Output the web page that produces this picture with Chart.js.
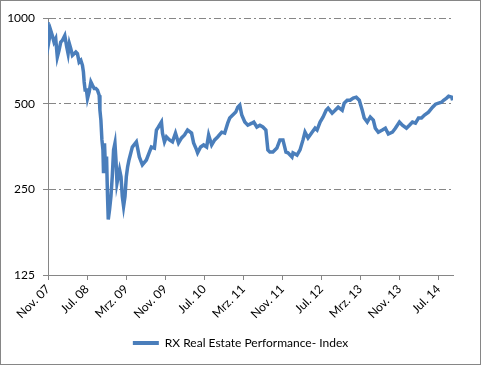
<!DOCTYPE html>
<html>
<head>
<meta charset="utf-8">
<script src="https://cdn.jsdelivr.net/npm/chart.js@4"></script>
<style>
  body { margin: 0; background: #fff; }
  #chart { display: block; outline: 1px solid #868686; outline-offset: -1px; }
</style>
</head>
<body>
<canvas id="chart" width="481" height="365"></canvas>
<script>
// months since Nov. 2007
const months = [
  0.00, 0.21, 0.56, 0.88, 1.23, 1.58, 1.91, 2.26, 2.61, 2.94,
  3.44, 3.85, 4.12, 4.38, 4.67, 5.00, 5.35, 5.70, 6.03, 6.38,
  6.73, 7.06, 7.26, 7.41, 7.61, 7.88, 8.09, 8.44, 8.79, 9.12,
  9.47, 9.81, 10.14, 10.49, 10.64, 10.84, 11.05, 11.26, 11.38, 11.58,
  11.79, 12.00, 12.20, 12.35, 12.61, 12.90, 13.17, 13.44, 13.72, 13.93,
  14.14, 14.40, 14.67, 14.96, 15.23, 15.49, 15.78, 16.05, 16.32, 16.60,
  17.28, 18.11, 18.72, 19.34, 20.16, 20.78, 21.19, 21.81, 22.22, 22.63,
  23.25, 23.46, 23.87, 24.28, 24.90, 25.51, 26.13, 26.75, 27.37, 27.98,
  28.60, 29.42, 29.84, 30.45, 30.66, 31.28, 31.89, 32.51, 32.92, 33.54,
  34.16, 34.77, 35.60, 36.21, 36.83, 37.24, 37.86, 38.48, 38.89, 39.30,
  39.71, 40.33, 40.95, 41.77, 42.18, 42.80, 43.42, 44.03, 44.65, 45.06,
  45.47, 46.09, 46.91, 47.53, 48.15, 48.77, 49.18, 50.00, 50.21, 51.03,
  51.65, 52.26, 52.67, 53.29, 54.12, 54.73, 55.14, 55.76, 56.38, 57.00,
  57.41, 58.23, 58.85, 59.47, 60.29, 60.70, 61.32, 61.93, 62.55, 63.17,
  63.79, 64.40, 64.81, 65.43, 66.05, 66.67, 67.08, 67.70, 68.52, 69.14,
  69.75, 70.58, 71.19, 72.02, 72.63, 73.46, 74.07, 74.69, 75.31, 75.93,
  76.54, 77.16, 77.98, 78.81, 79.42, 80.04, 80.66, 81.07, 81.69, 82.10,
  82.72, 82.92
];

const indexValues = [
  967, 834, 904, 868, 823, 846, 729, 770, 823, 834,
  868, 790, 749, 812, 780, 739, 749, 759, 749, 700,
  710, 682, 646, 596, 558, 558, 521, 550, 596, 580,
  565, 565, 558, 535, 474, 438, 373, 344, 285, 363,
  293, 326, 236, 196, 212, 236, 277, 344, 363, 317,
  263, 277, 293, 277, 236, 218, 236, 277, 300, 317,
  352, 367, 325, 305, 317, 338, 352, 349, 404, 414,
  431, 394, 367, 382, 373, 367, 394, 364, 379, 388,
  404, 394, 364, 344, 336, 352, 358, 352, 388, 358,
  373, 382, 397, 394, 427, 445, 456, 467, 486, 494,
  456, 431, 420, 427, 431, 414, 420, 414, 404, 344,
  338, 338, 349, 373, 373, 338, 336, 325, 336, 330,
  344, 373, 397, 379, 397, 410, 404, 431, 449, 474,
  482, 463, 474, 486, 474, 502, 514, 514, 523, 527,
  514, 474, 445, 431, 449, 438, 410, 397, 404, 410,
  391, 397, 410, 431, 420, 410, 420, 431, 427, 445,
  445, 456, 467, 486, 498, 502, 506, 514, 523, 531,
  527, 514
];

const tickMonths = [0, 8, 16, 24, 32, 40, 48, 56, 64, 72, 80];
const tickLabels = ['Nov. 07', 'Jul. 08', 'Mrz. 09', 'Nov. 09', 'Jul. 10', 'Mrz. 11',
  'Nov. 11', 'Jul. 12', 'Mrz. 13', 'Nov. 13', 'Jul. 14'];
const yTicks = [125, 250, 500, 1000];
const seriesName = 'RX Real Estate Performance- Index';

Chart.defaults.font.family = "Lato, 'Open Sans', sans-serif";
Chart.defaults.font.size = 12;
Chart.defaults.color = '#000';

const ctx = document.getElementById('chart').getContext('2d');
new Chart(ctx, {
  type: 'line',
  data: {
    datasets: [{
      label: seriesName,
      data: months.map((m, i) => ({ x: m, y: indexValues[i] })),
      borderColor: '#4A7EBB',
      backgroundColor: '#4A7EBB',
      borderWidth: 3.5,
      pointRadius: 0,
      tension: 0
    }]
  },
  options: {
    responsive: false,
    animation: false,
    layout: { padding: { top: 18, right: 0, bottom: 6, left: 0 } },
    plugins: {
      legend: {
        position: 'bottom',
        labels: {
          boxWidth: 26,
          boxHeight: 4,
          padding: 10,
          font: { size: 12 },
          generateLabels: chart => Chart.defaults.plugins.legend.labels.generateLabels(chart)
            .map(item => ({ ...item, lineWidth: 0 }))
        }
      },
      tooltip: { enabled: false }
    },
    scales: {
      x: {
        type: 'linear',
        min: 0,
        max: 83,
        afterBuildTicks: s => { s.ticks = tickMonths.map(v => ({ value: v })); },
        afterFit: s => { s.height = 52; s.paddingRight = 28; },
        ticks: {
          minRotation: 45,
          maxRotation: 45,
          padding: 2,
          callback: v => tickLabels[tickMonths.indexOf(v)]
        },
        grid: { drawOnChartArea: false, tickLength: 5, tickColor: '#868686' },
        border: { color: '#868686', width: 1 }
      },
      y: {
        type: 'logarithmic',
        min: 125,
        max: 1000,
        afterBuildTicks: s => { s.ticks = yTicks.map(v => ({ value: v })); },
        afterFit: s => { s.width = 48; },
        ticks: { padding: 8, callback: v => String(v) },
        grid: { color: '#868686', tickLength: 5, tickColor: '#868686' },
        border: { color: '#868686', width: 1, dash: [7, 3, 2, 3] }
      }
    }
  }
});
</script>
</body>
</html>
